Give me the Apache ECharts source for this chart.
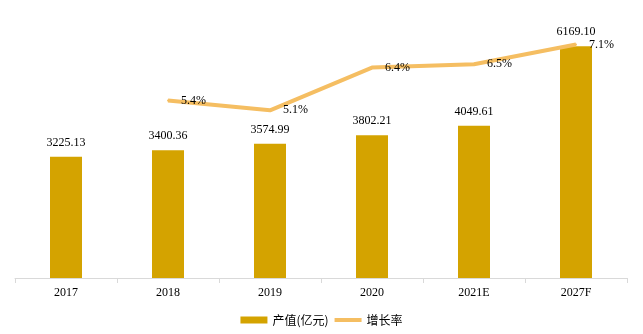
<!DOCTYPE html>
<html>
<head>
<meta charset="utf-8">
<script src="https://cdn.jsdelivr.net/npm/echarts@6/dist/echarts.min.js"></script>
<style>
html,body{margin:0;padding:0;background:#fff;}
#chart{width:643px;height:334px;}
</style>
</head>
<body>
<div id="chart"></div>
<script>
var categories = ['2017', '2018', '2019', '2020', '2021E', '2027F'];
var outputValues = [3225.13, 3400.36, 3574.99, 3802.21, 4049.61, 6169.10];
var growthRates = [null, 5.4, 5.1, 6.4, 6.5, 7.1];
var seriesNames = ['产值(亿元)', '增长率'];

var serif = '"Liberation Serif", "Times New Roman", serif';
var lineColor = '#F5BE62';
var chart = echarts.init(document.getElementById('chart'));
chart.setOption({
  animation: false,
  backgroundColor: '#ffffff',
  grid: { left: 15, right: 16, top: 15, bottom: 56 },
  legend: {
    bottom: 3,
    left: 'center',
    itemGap: 4,
    itemWidth: 27,
    itemHeight: 7,
    textStyle: { fontSize: 12, color: '#000', fontFamily: '"Noto Sans CJK SC", sans-serif' },
    data: [
      { name: seriesNames[0], icon: 'rect' },
      { name: seriesNames[1], itemStyle: { opacity: 0 }, lineStyle: { width: 4, color: lineColor } }
    ]
  },
  xAxis: {
    type: 'category',
    data: categories,
    axisLine: { lineStyle: { color: '#d9d9d9', width: 1 } },
    axisTick: { show: true, length: 5, lineStyle: { color: '#d9d9d9' } },
    axisLabel: { color: '#000', fontSize: 12, fontFamily: serif, margin: 9 }
  },
  yAxis: [
    { type: 'value', min: 0, max: 7000, show: false, splitLine: { show: false } },
    { type: 'value', min: 0, max: 8, show: false, splitLine: { show: false } }
  ],
  series: [
    {
      name: seriesNames[0],
      type: 'bar',
      data: outputValues,
      barWidth: 32,
      itemStyle: { color: '#D4A300' },
      label: {
        show: true,
        position: 'top',
        distance: 8,
        color: '#000',
        fontSize: 12,
        fontFamily: serif,
        formatter: function (p) { return p.value.toFixed(2); }
      }
    },
    {
      name: seriesNames[1],
      type: 'line',
      yAxisIndex: 1,
      data: growthRates,
      symbol: 'circle',
      symbolSize: 2,
      showSymbol: true,
      lineStyle: { color: lineColor, width: 4 },
      itemStyle: { color: lineColor },
      label: {
        show: true,
        position: 'right',
        distance: 12,
        color: '#000',
        fontSize: 12,
        fontFamily: serif,
        formatter: function (p) { return p.value.toFixed(1) + '%'; }
      }
    }
  ]
});
</script>
</body>
</html>
